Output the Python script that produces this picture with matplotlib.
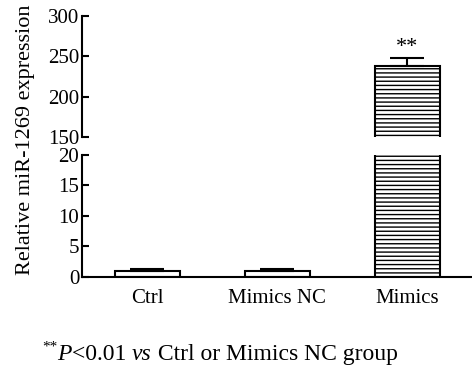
import matplotlib
matplotlib.use("Agg")
import matplotlib.pyplot as plt
from matplotlib.text import Annotation
import numpy as np

categories = ["Ctrl", "Mimics NC", "Mimics"]
values = [1.0, 0.9, 238.0]
errors = [0.25, 0.3, 10.0]
hatches = ["", "", "----"]
sig = ["", "", "**"]

plt.rcParams["font.family"] = ["Liberation Serif", "DejaVu Serif"]
plt.rcParams["hatch.linewidth"] = 1.0

W, H = 472, 368
fig = plt.figure(figsize=(W / 100, H / 100), dpi=100)
left = 82 / W
ax_top = fig.add_axes([left, 1 - 137 / H, 1 - left, 121 / H])
ax_bot = fig.add_axes([left, 1 - 276.7 / H, 1 - left, 121.7 / H])

x = np.arange(len(categories))
for ax in (ax_top, ax_bot):
    ax.bar(x, values, width=0.5, color="white", edgecolor="black",
           linewidth=1.5, hatch=hatches, zorder=2)
    ax.errorbar(x, values, yerr=[np.zeros(len(values)), errors], fmt="none",
                ecolor="black", elinewidth=1.5, capsize=12, capthick=1.5, zorder=3)
    ax.set_xlim(-0.5, 2.5)
    for s in ("top", "right"):
        ax.spines[s].set_visible(False)
    ax.spines["left"].set_linewidth(1.5)
    ax.spines["bottom"].set_linewidth(1.5)
    ax.tick_params(axis="y", direction="in", length=5, width=1.5, labelsize=15, pad=2)

ax_top.set_ylim(150, 300)
ax_top.set_yticks([150, 200, 250, 300])
ax_top.spines["bottom"].set_visible(False)
ax_top.set_xticks([])

ax_bot.set_ylim(0, 20)
ax_bot.set_yticks([0, 5, 10, 15, 20])
ax_bot.set_xticks(x)
ax_bot.set_xticklabels(categories, fontsize=15)
ax_bot.tick_params(axis="x", length=0, pad=9)

for xi, v, e, s in zip(x, values, errors, sig):
    if s:
        ax_top.annotate(s, (xi, v + e), xytext=(0, 1), textcoords="offset points",
                        ha="center", va="bottom", fontsize=16)

fig.text(26 / W, 1 - 140 / H, "Relative miR-1269 expression", rotation=90,
         ha="center", va="center", fontsize=16)

# footnote built from pieces (superscript, italics)
base_y = 1 - 360 / H
prev = fig.text(42 / W, 1 - 351 / H, "**", fontsize=11, va="baseline")
pieces = [("P", "italic"), ("<0.01 ", "normal"), ("vs", "italic"),
          (" Ctrl or Mimics NC group", "normal")]
for txt, style in pieces:
    prev = fig.add_artist(Annotation(
        txt, xy=(1, base_y), xycoords=(prev, "figure fraction"),
        ha="left", va="baseline", fontsize=17, fontstyle=style))

fig.savefig("out.png", dpi=100)
